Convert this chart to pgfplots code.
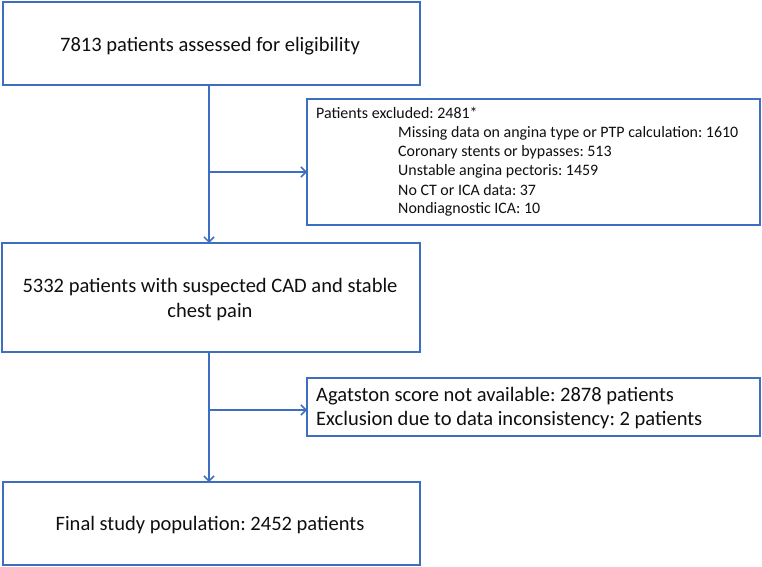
\documentclass[border=0pt]{standalone}
\usepackage{pgfplots}
\pgfplotsset{compat=1.18}
\usepackage{fontspec}
\setmainfont{Carlito}
\frenchspacing
\usetikzlibrary{arrows.meta}
\definecolor{boxblue}{RGB}{62,110,194}
\definecolor{txt}{RGB}{15,15,15}
\begin{document}
\begin{tikzpicture}
\begin{axis}[
  width=762bp, height=567bp, scale only axis,
  xmin=0, xmax=762, ymin=0, ymax=567, y dir=reverse,
  axis lines=none, clip=false,
  bx/.style={draw=boxblue, line width=1.8bp, line join=miter, mark=none, fill=none},
  arr/.style={bx, -{Straight Barb[length=5bp,width=10bp,line width=1.5bp]}},
]
\addplot[draw=none, mark=none] coordinates {(0,0) (762,567)};
% boxes
\addplot[bx] coordinates {(3,2) (420,2) (420,85) (3,85)} -- cycle;
\addplot[bx] coordinates {(307,99) (760,99) (760,225) (307,225)} -- cycle;
\addplot[bx] coordinates {(2,243) (420,243) (420,352) (2,352)} -- cycle;
\addplot[bx] coordinates {(307,378) (760,378) (760,436) (307,436)} -- cycle;
\addplot[bx] coordinates {(3,482) (420,482) (420,565) (3,565)} -- cycle;
% arrows
\addplot[arr] coordinates {(209,85) (209,243)};
\addplot[arr] coordinates {(209,172) (307,172)};
\addplot[arr] coordinates {(209,352) (209,482)};
\addplot[arr] coordinates {(209,410) (307,410)};
% texts
\begin{scope}[every node/.style={text=txt, inner sep=0pt}]
\node[anchor=base, font=\fontsize{20.6}{24}\selectfont] at (axis cs:210,52) {7813 patients assessed for eligibility};
\node[anchor=base, font=\fontsize{20.6}{24}\selectfont] at (axis cs:210,292) {5332 patients with suspected CAD and stable};
\node[anchor=base, font=\fontsize{20.6}{24}\selectfont] at (axis cs:210,317.5) {chest pain};
\node[anchor=base, font=\fontsize{20.6}{24}\selectfont] at (axis cs:210,530) {Final study population: 2452 patients};
\node[anchor=base west, font=\fontsize{16}{19}\selectfont] at (axis cs:316,118.3) {Patients excluded: 2481*};
\node[anchor=base west, font=\fontsize{16}{19}\selectfont] at (axis cs:398,137.3) {Missing data on angina type or PTP calculation: 1610};
\node[anchor=base west, font=\fontsize{16}{19}\selectfont] at (axis cs:398,156.5) {Coronary stents or bypasses: 513};
\node[anchor=base west, font=\fontsize{16}{19}\selectfont] at (axis cs:398,175.7) {Unstable angina pectoris: 1459};
\node[anchor=base west, font=\fontsize{16}{19}\selectfont] at (axis cs:398,195) {No CT or ICA data: 37};
\node[anchor=base west, font=\fontsize{16}{19}\selectfont] at (axis cs:398,213.5) {Nondiagnostic ICA: 10};
\node[anchor=base west, font=\fontsize{20.6}{24}\selectfont] at (axis cs:316,401.5) {Agatston score not available: 2878 patients};
\node[anchor=base west, font=\fontsize{20.6}{24}\selectfont] at (axis cs:316,425) {Exclusion due to data inconsistency: 2 patients};
\end{scope}
\end{axis}
\end{tikzpicture}
\end{document}
